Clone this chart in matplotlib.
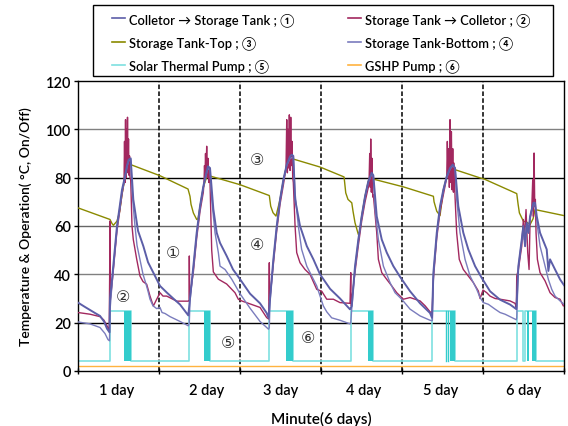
import matplotlib
matplotlib.use("Agg")
import matplotlib.pyplot as plt
from matplotlib.lines import Line2D
from matplotlib.patches import Rectangle

FAM = ['Lato', 'Noto Sans', 'DejaVu Sans', 'Noto Sans CJK JP']
plt.rcParams['font.family'] = FAM

# ---------------- data (minutes, values) ----------------
c2s_t = [0, 124, 302, 391, 462, 516, 560,
         569, 605, 653, 693, 741, 782, 836, 871, 901, 937,
         983, 1067, 1161, 1245, 1339, 1458, 1577, 1694, 1814, 1961,
         1991, 2051, 2110, 2169, 2228, 2288, 2311, 2347,
         2406, 2466, 2525, 2643, 2756, 2880, 3058, 3236, 3354, 3387,
         3414, 3473, 3533, 3592, 3651, 3711, 3770, 3800, 3828,
         3859, 3947, 4067, 4185, 4303, 4481, 4658, 4836,
         4867, 4925, 4984, 5043, 5103, 5161, 5221, 5250,
         5311, 5400, 5489, 5606, 5725, 5903, 6081, 6258, 6294,
         6318, 6378, 6436, 6495, 6555, 6614, 6662, 6703,
         6761, 6850, 6939, 7059, 7178, 7325, 7503, 7681, 7793,
         7829, 7889, 7917, 7948, 7978, 8007, 8037, 8066, 8096, 8125,
         8156, 8214, 8333, 8362, 8392, 8481, 8570, 8640]
c2s_v = [28.3, 26.5, 24, 22.8, 20.5, 17.5, 16,
         30, 38, 50, 60, 68, 75, 80.5, 85, 87.4, 88,
         71, 58, 51.7, 45, 40.7, 35.2, 32.5, 30, 27.5, 23,
         30, 43.4, 57.2, 68.2, 76.4, 82.6, 84.7, 84,
         67, 57.2, 53, 47.6, 42, 38, 32, 28, 24, 22,
         29.7, 46.2, 60, 71, 79.2, 85.4, 88.8, 89.5, 89,
         71, 60, 51.7, 46.2, 40, 34, 30, 25.5,
         26.9, 43.4, 54.4, 64, 72.3, 78.5, 82, 81,
         64, 54.4, 49, 43.4, 39, 33, 28, 24, 22,
         40.7, 57.2, 68.2, 75, 80.5, 84, 85.4, 84,
         68.2, 57.2, 50.3, 43.4, 38.5, 33, 29.5, 27.5, 25.6,
         43.4, 54.4, 60, 51.7, 61.3, 57.2, 64, 66.8, 69.6, 69.6,
         64, 57.2, 50.3, 41.4, 46.2, 42, 37.9, 35.5]

s2c_t = [0, 213, 391, 462, 516, 555, 563, 566, 569,
         605, 653, 693, 741, 782, 818,
         827, 836, 845, 853, 862, 871, 880, 889, 898, 907, 916, 925, 937,
         960, 983, 1044, 1102, 1156, 1221, 1280, 1339, 1399, 1458, 1511, 1577, 1755, 1961,
         1975, 1979, 1985, 2051, 2110, 2169, 2228, 2240,
         2249, 2258, 2267, 2276, 2288, 2299, 2311, 2324, 2334, 2347,
         2377, 2406, 2495, 2643, 2791, 2850, 2910, 3236, 3354, 3390,
         3401, 3407, 3473, 3533, 3592, 3651, 3698,
         3711, 3722, 3734, 3746, 3757, 3770, 3782, 3793, 3805, 3817, 3828,
         3859, 3888, 3947, 4036, 4125, 4244, 4333, 4422, 4540, 4658, 4836,
         4849, 4855, 4925, 4984, 5043, 5103, 5161, 5174,
         5186, 5197, 5204, 5215, 5227, 5240, 5250,
         5311, 5340, 5400, 5489, 5578, 5666, 5784, 5903, 6081, 6170, 6258, 6294,
         6318, 6378, 6436, 6495, 6555,
         6566, 6579, 6591, 6602, 6614, 6627, 6638, 6650, 6662, 6674, 6686, 6703,
         6732, 6778, 6850, 6939, 7028, 7117, 7148, 7200, 7266, 7325, 7414, 7503, 7681, 7770, 7793,
         7800, 7829, 7889, 7917, 7935, 7965, 7995, 8019, 8037, 8066, 8084, 8096, 8108, 8120, 8131,
         8143, 8167, 8214, 8303, 8392, 8481, 8570, 8629, 8640]
s2c_v = [24.2, 23.5, 22.5, 21, 18.7, 17, 40, 62, 28,
         36, 48, 58, 66, 73, 78,
         95, 78, 104, 80, 100, 82, 105, 84, 96, 81, 89, 80, 79,
         60, 54.4, 46.2, 39.3, 37, 35.9, 31, 26.9, 29.7, 32.4, 31, 31, 28.9, 28.9,
         29, 47.6, 30, 41, 55, 66, 74, 78,
         85, 80, 90, 82, 93, 80, 88, 78, 84, 78,
         50, 41, 38, 36, 32.4, 29.7, 29, 26.3, 22.1, 21.5,
         44.8, 29, 44, 58, 69, 77, 84,
         104, 82, 100, 84, 106, 83, 105, 85, 95, 80, 78,
         60, 49, 44.8, 42, 40, 33.8, 33, 29.7, 29.7, 28.3, 28,
         40.7, 27, 41, 52, 62, 70, 76, 78,
         90, 76, 96, 74, 88, 72, 73,
         57.2, 46.2, 40.7, 37.9, 35.2, 32.4, 29.7, 30.4, 29, 27, 24.5, 24,
         38, 55, 66, 73, 80,
         95, 80, 92, 76, 104, 78, 99, 75, 92, 74, 86, 72,
         57.2, 46.2, 42, 39.3, 36.6, 33.1, 30, 33.5, 32.4, 31, 30, 29.7, 29, 28, 26.3,
         39.3, 42, 51.7, 62.7, 54.4, 66.8, 49, 42, 62.7, 66.8, 79.2, 64, 90.2, 68.2, 71,
         57.2, 46.2, 40.7, 37.3, 32.4, 30.4, 29.7, 26.9, 27.6]

top_t = [0, 569, 605, 629, 693, 741, 782, 836, 901, 937,
         1458, 1956, 1991, 2009, 2051, 2110, 2134, 2169, 2228, 2294, 2329,
         2880, 3401, 3426, 3467, 3520, 3592, 3651, 3711, 3788, 3828,
         4303, 4730, 4760, 4800, 4867, 4890, 4925, 4984, 5014, 5043, 5103, 5161, 5192, 5250,
         5784, 6318, 6330, 6378, 6436, 6495, 6555, 6614, 6703,
         7148, 7224, 7800, 7824, 7847, 7917, 7978, 8037, 8090, 8125, 8640]
top_v = [67.5, 62.7, 61, 60.3, 62, 66, 73, 80, 85, 85.4,
         80.8, 75.3, 72.3, 69, 65.4, 62.7, 63, 68, 76, 80.8, 80.8,
         77.1, 72.6, 68.2, 65.5, 64.1, 71, 79, 85, 87.7, 87.7,
         84.4, 80.3, 73.7, 71, 69.6, 66, 61.3, 56.5, 58, 64, 72.3, 78.5, 79.8, 79.4,
         76.2, 72.3, 70, 66.1, 64.3, 75, 80.5, 83.3, 83.3,
         79.9, 79.4, 73.4, 69, 65.4, 62, 61.6, 60.6, 63, 66.8, 64.3]

bot_t = [0, 213, 391, 480, 533, 560,
         569, 605, 653, 693, 741, 782, 836, 871, 901, 937,
         960, 983, 1013, 1049, 1102, 1156, 1209, 1245, 1280, 1333, 1399, 1458, 1494, 1547, 1636, 1814, 1961,
         1979, 1991, 2051, 2110, 2169, 2228, 2288, 2311, 2347,
         2377, 2436, 2495, 2525, 2614, 2733, 2880, 3058, 3236, 3387,
         3401, 3414, 3473, 3533, 3592, 3651, 3711, 3770, 3828,
         3859, 3917, 3976, 4067, 4155, 4244, 4362, 4422, 4510, 4658, 4836,
         4849, 4867, 4925, 4984, 5043, 5103, 5161, 5221, 5250,
         5281, 5340, 5429, 5547, 5636, 5755, 5903, 6081, 6258, 6294,
         6300, 6318, 6378, 6436, 6495, 6555, 6614, 6662, 6703,
         6732, 6792, 6881, 6970, 7088, 7148, 7207, 7295, 7414, 7503, 7592, 7681, 7793,
         7800, 7829, 7889, 7917, 7948, 7978, 8007, 8037, 8066, 8096, 8125,
         8167, 8214, 8274, 8362, 8422, 8481, 8570, 8640]
bot_v = [20.3, 19.5, 18, 15.5, 13, 12.5,
         25, 36, 49, 59, 67, 74, 80, 84.5, 87, 87.5,
         76, 68, 60, 52, 46, 40, 36, 33, 29.7, 27, 25.8, 26.3, 24.2, 23.8, 22.5, 20.5, 18.7,
         20, 29, 42.5, 56.5, 67.5, 76, 82, 84, 83,
         71, 57.2, 49, 43.4, 42, 38, 32, 26, 20.5, 17.3,
         18, 29, 45.5, 59.5, 70.5, 78.5, 85, 88, 88.5,
         73.7, 60, 50.3, 43.4, 39.3, 35.2, 26.9, 24.5, 22, 21, 19.5,
         20, 26, 42.5, 54, 63.5, 72, 78, 81.5, 80.5,
         66.8, 54.4, 43.4, 36.6, 32.4, 29.7, 25.6, 22.8, 21, 20.8,
         21, 39.5, 56.5, 67.5, 74.5, 80, 83.5, 85, 84,
         71, 57.2, 46.2, 39.3, 33.8, 30.4, 28.3, 27.6, 25.6, 24.2, 23.5, 22.5, 21.2,
         22, 43, 54, 59.5, 51.5, 61, 57, 63.5, 66.5, 69, 69,
         60, 51.7, 46.2, 37.9, 33.8, 31, 29, 27.6]

pump_t = [0, 569, 937, 1979, 2347, 3401, 3828, 4849, 5250, 6300, 6703, 7800, 7917, 7948, 8137, 8640]
pump_v = [4, 25, 4, 25, 4, 25, 4, 25, 4, 25, 4, 25, 4, 25, 4, 4]
cycle_start = [818, 2245, 3692, 5161, 6614, 7978, 8066]
cycle_end = [937, 2347, 3828, 5250, 6703, 8019, 8137]
cycle_thin = [6543, 6573]
pump_off, pump_on = 4, 25

gshp_t = [0, 8640]
gshp_v = [2, 2]

day_bounds = [0, 1440, 2880, 4320, 5760, 7200, 8640]
day_label_pos = [694, 2294, 3609, 5085, 6454, 7930]
day_labels = ['1 day', '2 day', '3 day', '4 day', '5 day', '6 day']

marks = ['①', '②', '③', '④', '⑤', '⑥']
mark_t = [1695, 794, 3177, 3177, 2673, 4095]
mark_v = [49, 31, 87.4, 52.4, 11.8, 13.9]

labels = ['Colletor \u2192 Storage Tank ; ①', 'Storage Tank \u2192 Colletor ; ②',
          'Storage Tank-Top ; ③', 'Storage Tank-Bottom ; ④',
          'Solar Thermal Pump ; ⑤', 'GSHP Pump ; ⑥']
colors = ['#5c5ea8', '#a2285f', '#8a8a00', '#7a7cbd', '#7ee0e0', '#ffb340']
block_color = '#33cccc'

# ---------------- figure ----------------
W, H = 568, 427
fig = plt.figure(figsize=(W / 100, H / 100), dpi=100)
ax = fig.add_axes([78 / W, 1 - 372 / H, (564 - 78) / W, (372 - 82) / H])

grid_colors = ['#000000', '#808080', '#666666', '#000000', '#808080']
for yv, gc in zip([20, 40, 60, 80, 100], grid_colors):
    ax.axhline(yv, color=gc, lw=1.0, zorder=1)
for xb in day_bounds[1:-1]:
    ax.axvline(xb, color='black', lw=1.1, ls=(0, (3, 1.5)), zorder=1)

ax.plot(gshp_t, gshp_v, color=colors[5], lw=1.0, zorder=2)
ax.step(pump_t, pump_v, where='post', color=colors[4], lw=1.2, zorder=2)
for cs, ce in zip(cycle_start, cycle_end):
    ax.fill_between([cs, ce], [pump_off, pump_off], [pump_on, pump_on],
                    color=block_color, lw=0, zorder=2)
for ct in cycle_thin:
    ax.plot([ct, ct], [pump_off, pump_on], color=block_color, lw=1.0, zorder=2)

ax.plot(top_t, top_v, color=colors[2], lw=1.0, zorder=3)
ax.plot(s2c_t, s2c_v, color=colors[1], lw=1.0, zorder=4)
ax.plot(bot_t, bot_v, color=colors[3], lw=1.0, zorder=5)
ax.plot(c2s_t, c2s_v, color=colors[0], lw=1.4, zorder=6)

for m, mt, mv in zip(marks, mark_t, mark_v):
    ax.text(mt, mv, m, ha='center', va='center', fontsize=11.5, color='#333333',
            family=['DejaVu Sans', 'Noto Sans CJK JP'], zorder=7)

ax.set_xlim(0, 8640)
ax.set_ylim(0, 120)
ax.set_yticks([0, 20, 40, 60, 80, 100, 120])
ax.set_xticks(day_bounds)
ax.set_xticklabels([])
ax.set_xticks(day_label_pos, minor=True)
ax.set_xticklabels(day_labels, minor=True)
ax.tick_params(axis='x', which='major', length=4, direction='inout', width=1)
ax.tick_params(axis='x', which='minor', length=0, pad=9, labelsize=10.5)
ax.tick_params(axis='y', length=3, width=1, labelsize=10.5, pad=2)
for lab in ax.get_xticklabels(minor=True) + ax.get_yticklabels():
    lab.set_fontweight('semibold')
for s in ax.spines.values():
    s.set_linewidth(1.0)
    s.set_color('black')

ax.set_xlabel('Minute(6 days)', fontsize=11, fontweight='semibold', labelpad=10)
ax.set_ylabel('Temperature & Operation( °C, On/Off)', fontsize=10,
              fontweight='semibold', labelpad=10)

# legend frame drawn separately; two legend columns placed inside
fig.patches.append(Rectangle((93 / W, 1 - 77 / H), 460 / W, 71 / H,
                             transform=fig.transFigure, fill=False,
                             edgecolor='black', lw=1.0))
handles = [Line2D([], [], color=c, lw=1.2) for c in colors]
col_x = [112, 348]
for k, idxs in enumerate([[0, 2, 4], [1, 3, 5]]):
    fig.legend([handles[i] for i in idxs], [labels[i] for i in idxs],
               loc='upper left',
               bbox_to_anchor=(col_x[k] / W, 1 - 13 / H),
               frameon=False, borderpad=0, borderaxespad=0,
               handlelength=1.0, handletextpad=0.3,
               labelspacing=0.72,
               prop={'size': 9.3, 'weight': 'semibold', 'family': FAM})

fig.savefig('out.png', dpi=100)
